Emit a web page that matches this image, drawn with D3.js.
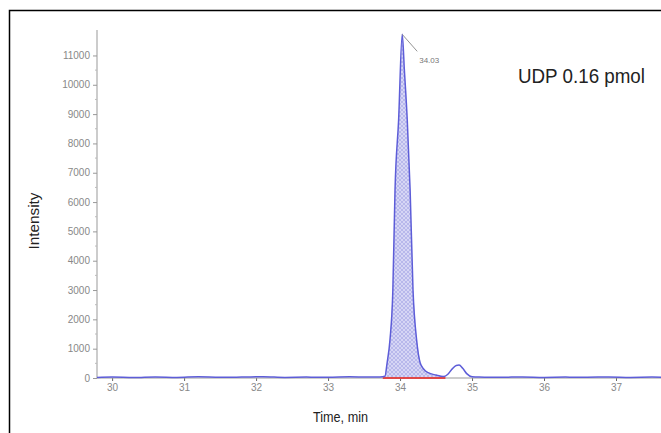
<!DOCTYPE html>
<html><head><meta charset="utf-8">
<script src="https://cdn.jsdelivr.net/npm/d3@7"></script>
<style>
html,body{margin:0;padding:0;background:#fff;}
svg{display:block;}
</style></head>
<body>
<svg id="chart" width="661" height="433"></svg>
<script>
// ---- data ----
const xTicks = [30, 31, 32, 33, 34, 35, 36, 37];
const yTicks = [0, 1000, 2000, 3000, 4000, 5000, 6000, 7000, 8000, 9000, 10000, 11000];
const traceTime = [29.79, 30.0, 30.3, 30.6, 30.9, 31.2, 31.5, 31.8, 32.1, 32.4, 32.7, 33.0, 33.3, 33.55, 33.72, 33.79, 33.82, 33.86, 33.90, 33.93, 33.98, 34.03, 34.06, 34.10, 34.14, 34.18, 34.23, 34.28, 34.33, 34.39, 34.50, 34.60, 34.66, 34.72, 34.78, 34.82, 34.87, 34.93, 35.00, 35.1, 35.4, 35.7, 36.0, 36.3, 36.6, 36.9, 37.2, 37.5, 37.63];
const traceIntensity = [20, 30, 15, 35, 20, 40, 25, 30, 45, 20, 30, 25, 40, 30, 35, 60, 510, 1300, 3000, 6400, 8800, 11720, 10500, 8800, 6400, 3000, 1300, 510, 300, 180, 100, 50, 120, 300, 430, 440, 330, 140, 40, 30, 25, 35, 20, 30, 25, 35, 20, 30, 25];
const peakLabel = "34.03";
const peakTime = 34.03;
const peakIntensity = 11720;
const areaStart = 33.76;
const areaEnd = 34.63;
const titleText = "UDP 0.16 pmol";
const xTitle = "Time, min";
const yTitle = "Intensity";

// ---- drawing ----
const svg = d3.select("#chart");
const x = d3.scaleLinear().domain([29.79, 37.625]).range([97, 661]);
const y = d3.scaleLinear().domain([0, 11800]).range([378, 32]);
const narrow = "'Liberation Sans Narrow', 'Liberation Sans', Arial, sans-serif";

const defs = svg.append("defs");
const pat = defs.append("pattern").attr("id", "hatch").attr("patternUnits", "userSpaceOnUse")
  .attr("width", 4).attr("height", 4);
pat.append("rect").attr("width", 4).attr("height", 4).attr("fill", "#d6d6f5");
pat.append("path").attr("d", "M0,0L4,4M4,0L0,4").attr("stroke", "#ababe6").attr("stroke-width", 0.7);

// outer frame
svg.append("rect").attr("x", 9.5).attr("y", 10.5).attr("width", 700).attr("height", 500)
  .attr("fill", "none").attr("stroke", "#000").attr("stroke-width", 1.5);

const pts = traceTime.map((t, i) => ({t, v: traceIntensity[i]}));

// filled integration area
const areaPts = pts.filter(d => d.t >= areaStart && d.t <= areaEnd);
svg.append("path").datum(areaPts)
  .attr("d", d3.area().x(d => x(d.t)).y0(y(0)).y1(d => y(d.v)))
  .attr("fill", "url(#hatch)").attr("stroke", "none");

// y axis
const yAxis = d3.axisLeft(y).tickValues(yTicks).tickSize(4).tickPadding(3).tickFormat(d3.format("d"));
const gy = svg.append("g").attr("transform", "translate(97,0)").call(yAxis);
gy.select(".domain").remove();
gy.append("line").attr("x1", 0).attr("x2", 0).attr("y1", 30).attr("y2", 378).attr("stroke", "#999");
gy.selectAll(".tick line").attr("stroke", "#999");
gy.selectAll(".tick text").attr("fill", "#888").style("font", "10px " + narrow);
// minor ticks
gy.selectAll(".minor").data(d3.range(500, 11500, 1000)).enter().append("line")
  .attr("x1", -2).attr("x2", 0).attr("y1", d => y(d)).attr("y2", d => y(d)).attr("stroke", "#bbb");

// x axis
const xAxis = d3.axisBottom(x).tickValues(xTicks).tickSize(3).tickPadding(3).tickFormat(d3.format("d"));
const gx = svg.append("g").attr("transform", "translate(0,378)").call(xAxis);
gx.select(".domain").remove();
gx.append("line").attr("x1", 97).attr("x2", 661).attr("y1", 0).attr("y2", 0).attr("stroke", "#999");
gx.selectAll(".tick line").attr("stroke", "#666");
gx.selectAll(".tick text").attr("fill", "#888").style("font", "10px " + narrow);

// red baseline of integration
svg.append("line").attr("x1", x(areaStart)).attr("x2", x(areaEnd)).attr("y1", y(0)).attr("y2", y(0))
  .attr("stroke", "#e04848").attr("stroke-width", 2);

// trace
svg.append("path").datum(pts)
  .attr("d", d3.line().x(d => x(d.t)).y(d => y(d.v)).curve(d3.curveMonotoneX))
  .attr("fill", "none").attr("stroke", "#5d5dd8").attr("stroke-width", 1.5);

// peak label with leader
svg.append("line").attr("x1", x(peakTime)).attr("y1", y(peakIntensity))
  .attr("x2", x(peakTime) + 15).attr("y2", y(peakIntensity) + 17).attr("stroke", "#777").attr("stroke-width", 0.8);
svg.append("text").attr("x", x(peakTime) + 17).attr("y", y(peakIntensity) + 29)
  .attr("fill", "#777").style("font", "8px " + narrow).text(peakLabel);

// title
svg.append("text").attr("x", 518).attr("y", 83).attr("textLength", 127).attr("lengthAdjust", "spacingAndGlyphs")
  .attr("fill", "#222").style("font", "20px " + narrow).text(titleText);

// axis titles
svg.append("text").attr("x", 313).attr("y", 422).attr("textLength", 55).attr("lengthAdjust", "spacingAndGlyphs")
  .attr("fill", "#222").style("font", "15px " + narrow).text(xTitle);
svg.append("text").attr("transform", "translate(39,221) rotate(-90)").attr("text-anchor", "middle")
  .attr("textLength", 57).attr("lengthAdjust", "spacingAndGlyphs")
  .attr("fill", "#222").style("font", "15px " + narrow).text(yTitle);
</script>
</body></html>
